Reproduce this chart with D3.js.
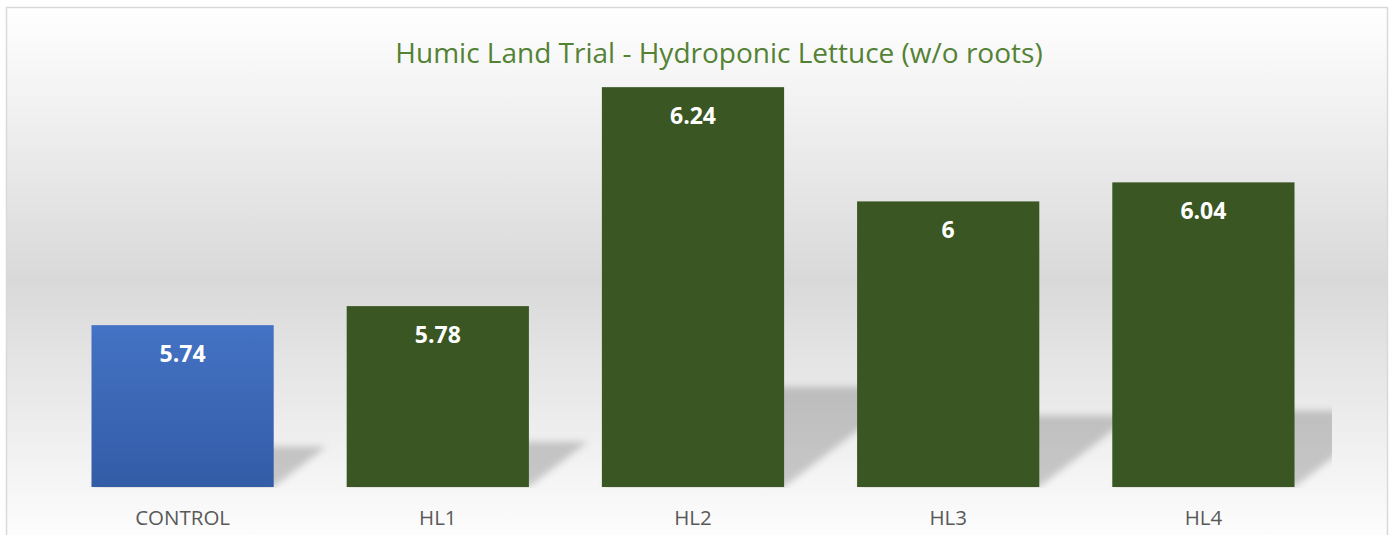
<!DOCTYPE html>
<html>
<head>
<meta charset="utf-8">
<script src="https://cdn.jsdelivr.net/npm/d3@7"></script>
<style>
  body { margin: 0; background: #fff; }
  svg { display: block; }
</style>
</head>
<body>
<script>
const width = 1392;
const height = 535;

// Chart data
const categories = ["CONTROL", "HL1", "HL2", "HL3", "HL4"];
const values = [5.74, 5.78, 6.24, 6.00, 6.04];
const labels = ["5.74", "5.78", "6.24", "6", "6.04"];
const title = "Humic Land Trial - Hydroponic Lettuce (w/o roots)";

const svg = d3.select("body").append("svg")
  .attr("width", width)
  .attr("height", height);

const defs = svg.append("defs");

// chart background: white -> grey -> white
const bg = defs.append("linearGradient")
  .attr("id", "bg").attr("x1", 0).attr("y1", 0).attr("x2", 0).attr("y2", 1);
bg.append("stop").attr("offset", "0%").attr("stop-color", "#ffffff");
bg.append("stop").attr("offset", "50%").attr("stop-color", "#d9d9d9");
bg.append("stop").attr("offset", "100%").attr("stop-color", "#ffffff");

// blue gradient for the control bar
const blue = defs.append("linearGradient")
  .attr("id", "blue").attr("x1", 0).attr("y1", 0).attr("x2", 0).attr("y2", 1);
blue.append("stop").attr("offset", "0%").attr("stop-color", "#4472c4");
blue.append("stop").attr("offset", "100%").attr("stop-color", "#335ca6");

defs.append("filter").attr("id", "blur")
  .attr("x", "-20%").attr("y", "-20%").attr("width", "140%").attr("height", "140%")
  .append("feGaussianBlur").attr("stdDeviation", 3.5);

// plot area
const x0 = 55, x1 = 1331;
defs.append("clipPath").attr("id", "plotclip")
  .append("rect").attr("x", x0).attr("y", 0).attr("width", x1 - x0 + 1).attr("height", 488);

// outer chart frame
svg.append("rect")
  .attr("x", 6.5).attr("y", 7.5)
  .attr("width", 1381).attr("height", 545)
  .attr("fill", "url(#bg)")
  .attr("stroke", "#d9d9d9")
  .attr("stroke-width", 1.5);

const x = d3.scaleBand()
  .domain(categories)
  .range([x0, x1])
  .paddingInner(0.286)
  .paddingOuter(0.143);

const y = d3.scaleLinear()
  .domain([5.4, 6.3])
  .range([487, 58.6]);

const data = categories.map((c, i) => ({ cat: c, value: values[i], label: labels[i] }));

// perspective shadows behind the bars
const base = y(5.4);
svg.append("g")
  .attr("clip-path", "url(#plotclip)")
  .selectAll("path")
  .data(data)
  .join("path")
    .attr("d", d => {
      const L = x(d.cat), R = x(d.cat) + x.bandwidth();
      const sh = (base - y(d.value)) * 0.25;
      const dx = sh * 1.3;
      return `M${L},${base}L${R},${base}L${R + dx},${base - sh}L${L + dx},${base - sh}Z`;
    })
    .attr("fill", "#000")
    .attr("fill-opacity", 0.19)
    .attr("filter", "url(#blur)");

// bars
svg.append("g")
  .selectAll("rect")
  .data(data)
  .join("rect")
    .attr("x", d => x(d.cat))
    .attr("y", d => y(d.value))
    .attr("width", x.bandwidth())
    .attr("height", d => base - y(d.value))
    .attr("fill", (d, i) => i === 0 ? "url(#blue)" : "#3a5623");

// data labels
svg.append("g")
  .selectAll("text")
  .data(data)
  .join("text")
    .attr("x", d => x(d.cat) + x.bandwidth() / 2)
    .attr("y", d => y(d.value) + 37)
    .attr("text-anchor", "middle")
    .attr("font-family", "'Open Sans', sans-serif")
    .attr("font-weight", "bold")
    .attr("font-size", 23)
    .attr("fill", "#ffffff")
    .text(d => d.label);

// category axis
const xAxis = svg.append("g")
  .attr("transform", `translate(0,${base})`)
  .call(d3.axisBottom(x).tickSize(0).tickPadding(23));
xAxis.select(".domain").remove();
xAxis.selectAll("text")
  .attr("dy", "0.71em")
  .attr("font-family", "'Open Sans', sans-serif")
  .attr("font-size", 20.5)
  .attr("fill", "#595959");

// title
svg.append("text")
  .attr("x", 719)
  .attr("y", 63)
  .attr("text-anchor", "middle")
  .attr("font-family", "'Open Sans', sans-serif")
  .attr("font-size", 28)
  .attr("fill", "#548235")
  .text(title);
</script>
</body>
</html>
